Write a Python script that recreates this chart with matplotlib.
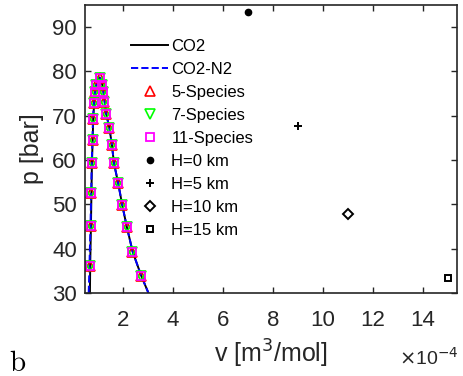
import numpy as np
import matplotlib
matplotlib.use("Agg")
import matplotlib.pyplot as plt
from matplotlib.ticker import FuncFormatter

plt.rcParams['font.family'] = ['Liberation Sans', 'DejaVu Sans']

# saturation dome, v in 1e-4 m3/mol, p in bar
co2_v = [0.67, 0.68, 0.71, 0.73, 0.75, 0.78, 0.80, 0.84, 0.88, 0.93, 0.99, 1.06,
         1.13, 1.19, 1.24, 1.32, 1.45, 1.55, 1.63, 1.80, 1.96, 2.15, 2.38, 2.72, 3.01]
co2_p = [30.0, 36.1, 45.0, 52.5, 59.3, 64.5, 69.3, 72.8, 75.3, 77.0, 78.2, 78.6,
         77.9, 76.3, 74.0, 70.4, 67.2, 63.4, 59.3, 54.8, 49.9, 44.8, 39.3, 33.9, 30.0]
co2n2_v = [0.62, 0.65, 0.69, 0.72, 0.74, 0.77, 0.79, 0.83, 0.88, 0.93, 0.99, 1.06,
           1.13, 1.19, 1.24, 1.32, 1.45, 1.55, 1.63, 1.80, 1.96, 2.15, 2.38, 2.72, 3.01]
co2n2_p = co2_p

# species model points
sp_v = [0.68, 0.71, 0.73, 0.75, 0.80, 0.79, 0.84, 0.88, 0.91, 1.08,
        1.17, 1.21, 1.24, 1.33, 1.45, 1.55, 1.62, 1.81, 1.96, 2.16, 2.37, 2.72]
sp_p = [36.1, 45.0, 52.5, 59.3, 64.5, 69.3, 72.8, 75.3, 77.0, 78.5,
        77.0, 75.3, 73.0, 70.3, 67.2, 63.4, 59.3, 54.8, 49.9, 44.8, 39.3, 33.9]

# altitude points
h_labels = ['H=0 km', 'H=5 km', 'H=10 km', 'H=15 km']
h_v = [7.0, 9.0, 11.0, 15.0]
h_p = [93.3, 67.6, 47.9, 33.4]
h_markers = ['o', '+', 'D', 's']
h_sizes = [4.5, 6, 5, 5]

scale = 1e-4
txt = '#262626'

fig = plt.figure(figsize=(4.63, 3.76), dpi=100)
ax = fig.add_axes([0.184, 0.221, 0.803, 0.766])

ax.plot(np.array(co2_v) * scale, co2_p, '-', color='black', lw=1.4, label='CO2')
ax.plot(np.array(co2n2_v) * scale, co2n2_p, '--', color='#0000ff', lw=1.4, label='CO2-N2')
ax.plot(np.array(sp_v) * scale, sp_p, '^', ls='none', mfc='none', mec='red', mew=1.2,
        ms=7, label='5-Species')
ax.plot(np.array(sp_v) * scale, sp_p, 'v', ls='none', mfc='none', mec='#00ff00', mew=1.2,
        ms=7, label='7-Species')
ax.plot(np.array(sp_v) * scale, sp_p, 's', ls='none', mfc='none', mec='magenta', mew=1.3,
        ms=5.5, label='11-Species')
for lab, v, p, m, s in zip(h_labels, h_v, h_p, h_markers, h_sizes):
    if m == 'o':
        ax.plot(v * scale, p, m, ls='none', color='black', ms=s, label=lab)
    else:
        ax.plot(v * scale, p, m, ls='none', mfc='none', mec='black', mew=1.4, ms=s, label=lab)

ax.set_xlim(0.48e-4, 15.36e-4)
ax.set_ylim(30, 95)
ax.set_xticks(np.arange(2, 15, 2) * scale)
ax.set_yticks(np.arange(30, 91, 10))
ax.xaxis.set_major_formatter(FuncFormatter(lambda x, pos: '%g' % round(x / scale, 6)))
ax.tick_params(direction='in', top=True, right=True, labelsize=16, length=4,
               width=1, colors=txt)
ax.tick_params(axis='x', pad=12)
ax.tick_params(axis='y', pad=6)
for sp in ax.spines.values():
    sp.set_linewidth(1.2)
    sp.set_color(txt)

ax.set_xlabel('v [m$^3$/mol]', fontsize=18, color=txt, labelpad=5)
ax.set_ylabel('p [bar]', fontsize=18, color=txt, labelpad=6)
fig.text(0.862, 0.03, r'$\times$10$^{-4}$', fontsize=14, color=txt, ha='left')
fig.text(0.02, 0.012, 'b', fontsize=21, family='cmr10', color='black')

leg = ax.legend(loc='upper left', bbox_to_anchor=(0.106, 0.905), frameon=False,
                fontsize=12, handlelength=2.2, handletextpad=0.2, labelspacing=0.48,
                borderaxespad=0)

fig.savefig('out.png', dpi=100)
